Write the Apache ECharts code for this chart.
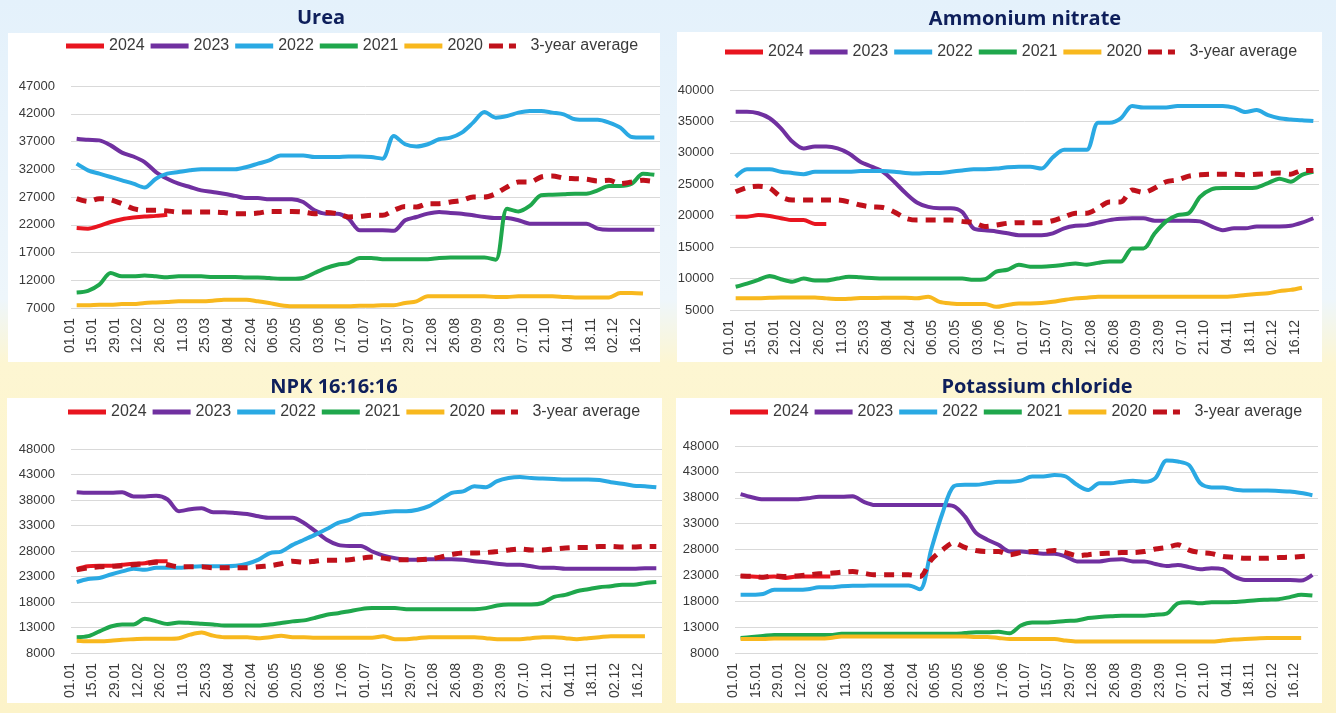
<!DOCTYPE html>
<html>
<head>
<meta charset="utf-8">
<title>Fertilizer prices</title>
<script src="https://cdn.jsdelivr.net/npm/echarts@6/dist/echarts.min.js"></script>
<style>
  html, body { margin: 0; padding: 0; }
  #chart {
    width: 1336px;
    height: 713px;
    background: linear-gradient(to bottom, #e4f1fb 0%, #eef6fb 42%, #fdf6d2 51%, #fcf3c9 100%);
  }
</style>
</head>
<body>
<div id="chart"></div>
<script>
'use strict';

// weekly dates (2024 calendar), every second one is labelled
const weeks = ['01.01','08.01','15.01','22.01','29.01','05.02','12.02','19.02','26.02','04.03','11.03','18.03','25.03',
    '01.04','08.04','15.04','22.04','29.04','06.05','13.05','20.05','27.05','03.06','10.06','17.06','24.06',
    '01.07','08.07','15.07','22.07','29.07','05.08','12.08','19.08','26.08','02.09','09.09','16.09','23.09','30.09',
    '07.10','14.10','21.10','28.10','04.11','11.11','18.11','25.11','02.12','09.12','16.12','23.12'];

const seriesNames = ['2024', '2023', '2022', '2021', '2020', '3-year average'];
const chartTitles = ['Urea', 'Ammonium nitrate', 'NPK 16:16:16', 'Potassium chloride'];

// Urea
const urea2024 = [21400,21300,21800,22500,23000,23300,23500,23600,23800];
const urea2023 = [37500,37300,37200,36300,35000,34300,33300,31500,30300,29400,28800,28200,27900,27600,27200,26800,26800,26600,26600,26600,26100,24600,24000,24000,23100,21000,21000,21000,20900,22800,23400,24000,24300,24100,24000,23700,23400,23200,23200,22800,22200,22200,22200,22200,22200,22200,21300,21100,21100,21100,21100,21100];
const urea2022 = [33000,31800,31200,30600,30000,29400,28700,30300,31200,31500,31800,32000,32000,32000,32000,32400,33000,33600,34500,34500,34500,34200,34200,34200,34300,34300,34200,33900,38000,36500,36100,36500,37400,37700,38600,40400,42300,41300,41600,42200,42500,42500,42200,41900,41000,40900,40900,40400,39500,37800,37700,37700];
const urea2021 = [9800,10100,11200,13300,12700,12700,12850,12700,12550,12700,12700,12700,12600,12600,12600,12500,12500,12400,12250,12250,12400,13300,14200,14800,15100,16000,16000,15800,15800,15800,15800,15800,16000,16100,16100,16100,16100,15700,24900,24400,25400,27300,27400,27500,27600,27600,28200,29000,29000,29400,31200,31000];
const urea2020 = [7500,7500,7600,7600,7700,7700,7900,8000,8100,8200,8200,8200,8300,8500,8500,8500,8200,7900,7500,7300,7300,7300,7300,7300,7300,7400,7400,7500,7500,7900,8200,9100,9100,9100,9100,9100,9100,9000,9000,9100,9100,9100,9100,9000,8900,8900,8900,8900,9700,9700,9600];
const ureaAvg = [26700,26200,26700,26500,25800,24900,24600,24600,24500,24300,24300,24300,24300,24200,24000,24000,24100,24400,24400,24400,24300,24000,24200,24000,23400,23500,23700,23700,24600,25300,25200,25800,25800,26100,26400,27000,27000,27600,28800,29700,29700,30600,30800,30400,30300,30200,29900,30000,29400,29700,30000,29800];

// Ammonium nitrate
const an2024 = [19850,19850,20100,19950,19600,19300,19300,18700,18700];
const an2023 = [36550,36550,36300,35500,33900,31800,30700,31000,31000,30700,29900,28600,27800,27000,25400,23600,22100,21400,21200,21200,20600,18000,17700,17500,17200,16900,16900,16900,17200,18000,18400,18500,18900,19300,19500,19600,19600,19200,19200,19200,19200,19100,18300,17700,18000,18000,18300,18300,18300,18400,18900,19600];
const an2022 = [26200,27400,27400,27400,27000,26800,26600,27000,27000,27000,27000,27100,27100,27100,27000,26800,26700,26800,26800,27000,27200,27400,27400,27500,27700,27800,27800,27500,29300,30500,30500,30500,34800,34800,35500,37450,37200,37200,37200,37450,37450,37450,37450,37450,37200,36500,36800,36000,35500,35300,35200,35050];
const an2021 = [8700,9200,9800,10400,9900,9500,10000,9700,9700,10000,10300,10200,10100,10000,10000,10000,10000,10000,10000,10000,10000,9800,9900,11100,11400,12200,11900,11900,12000,12200,12400,12200,12500,12700,12700,14800,14800,17200,19100,20100,20400,23000,24200,24400,24400,24400,24500,25200,25900,25400,26500,27000];
const an2020 = [6850,6850,6850,6950,7000,7000,7000,7000,6850,6750,6800,6900,6900,6950,6950,6950,6850,7100,6300,6050,5950,5950,5950,5500,5800,6050,6050,6100,6300,6600,6850,6950,7100,7100,7100,7100,7100,7100,7100,7100,7100,7100,7100,7100,7200,7400,7550,7650,8000,8200,8550];
const anAvg = [23800,24500,24700,24400,23000,22500,22500,22500,22500,22500,22200,21700,21400,21300,20600,19600,19300,19300,19300,19300,19100,18900,18300,18500,18800,18900,18900,18900,19200,19800,20400,20400,21200,22200,22200,24100,23700,24400,25400,25700,26300,26500,26600,26600,26600,26500,26600,26700,26800,26600,27200,27200];

// NPK 16:16:16
const npk2024 = [24500,25000,25100,25100,25300,25500,25600,26000,26000];
const npk2023 = [39500,39400,39400,39400,39500,38700,38700,38850,38100,35800,36200,36400,35600,35600,35450,35250,34800,34500,34500,34500,33500,31900,30200,29200,29000,29000,27900,27100,26600,26300,26300,26400,26400,26400,26300,26000,25800,25500,25300,25300,25000,24700,24700,24500,24500,24500,24500,24500,24500,24500,24600,24600];
const npk2022 = [21900,22500,22700,23400,24000,24500,24300,24700,24700,24700,24900,25000,25000,25000,25100,25500,26300,27600,27900,29200,30200,31200,32300,33500,34100,35100,35300,35600,35800,35800,36100,36800,38100,39400,39700,40700,40500,41700,42300,42500,42300,42200,42100,42000,42000,42000,41900,41500,41200,40800,40700,40500];
const npk2021 = [11100,11300,12250,13200,13600,13600,14700,14200,13700,14000,13900,13750,13600,13400,13400,13400,13400,13600,13900,14200,14400,14900,15500,15800,16200,16600,16800,16800,16800,16600,16600,16600,16600,16600,16600,16600,16800,17300,17500,17500,17500,17800,19000,19400,20100,20500,20900,21100,21400,21400,21700,21900];
const npk2020 = [10400,10300,10300,10400,10600,10700,10800,10800,10800,10900,11600,12000,11400,11100,11100,11100,10900,11100,11400,11100,11100,11000,11000,11000,11000,11000,11000,11300,10700,10700,10900,11100,11100,11100,11100,11100,10900,10700,10700,10700,10900,11100,11100,10900,10700,10900,11100,11300,11300,11300,11300];
const npkAvg = [24300,24700,24900,25000,25100,25300,25500,25800,25300,24900,24900,24900,24700,24700,24700,24700,24900,25100,25500,26000,25800,26000,26200,26200,26300,26600,26800,26600,26300,26300,26300,26400,26800,27300,27600,27600,27700,27900,28200,28400,28200,28200,28400,28600,28700,28700,28900,28900,28800,28800,28900,28900];

// Potassium chloride
const kcl2024 = [22900,22800,22650,22800,22500,22800,22800,22800,22800];
const kcl2023 = [38700,38100,37700,37700,37700,37700,37900,38200,38200,38200,38300,37200,36600,36600,36600,36600,36600,36600,36600,36400,34400,31200,29900,28900,27600,27600,27400,27200,27200,26650,25700,25700,25700,26000,26100,25700,25700,25200,24800,25000,24600,24200,24400,24200,22800,22100,22100,22100,22100,22100,22000,23100];
const kcl2022 = [19250,19250,19400,20200,20200,20200,20300,20700,20700,20900,21000,21000,21050,21050,21050,21050,20300,28000,35000,40200,40500,40500,40800,41100,41100,41300,42100,42100,42400,42100,40500,39500,40800,40800,41100,41300,41100,41800,45200,45000,44300,40800,40000,40000,39600,39400,39400,39400,39300,39200,38900,38500];
const kcl2021 = [10900,11100,11300,11500,11500,11500,11500,11500,11500,11700,11700,11700,11700,11700,11700,11700,11700,11700,11700,11700,11850,12000,12000,12100,11800,13300,13900,13900,14000,14200,14300,14750,14950,15100,15200,15200,15200,15400,15600,17600,17800,17600,17800,17800,17850,18000,18200,18300,18400,18800,19250,19100];
const kcl2020 = [10700,10700,10700,10800,10800,10800,10800,10800,10900,11200,11200,11200,11200,11200,11200,11200,11200,11200,11200,11200,11200,11100,11100,10900,10700,10700,10700,10700,10700,10400,10200,10200,10200,10200,10200,10200,10200,10200,10200,10200,10200,10200,10200,10400,10600,10700,10800,10900,10900,10900,10900];
const kclAvg = [22900,22800,22650,22900,22800,22900,23100,23300,23400,23600,23750,23400,23100,23100,23100,23100,22800,26000,27900,29300,28400,27800,27600,27600,27000,27400,27600,27600,27800,27400,26800,27000,27200,27300,27400,27400,27600,28100,28400,28900,27900,27400,27200,26650,26500,26300,26300,26300,26450,26500,26650,26800];

const chartSeries = [
    [urea2024, urea2023, urea2022, urea2021, urea2020, ureaAvg],
    [an2024, an2023, an2022, an2021, an2020, anAvg],
    [npk2024, npk2023, npk2022, npk2021, npk2020, npkAvg],
    [kcl2024, kcl2023, kcl2022, kcl2021, kcl2020, kclAvg]
];

const yRanges = [[7000, 47000], [5000, 40000], [8000, 48000], [8000, 48000]];

/*
 * layout of the four panels
 */
const layouts = [
    { grid: { left: 71, top: 86, width: 589, height: 222 }, legend: { left: 66, top: 38 },
      title: { x: 321, y: 18 }, panel: { x: 8, y: 33, width: 652, height: 329 } },
    { grid: { left: 730, top: 90, width: 589, height: 220 }, legend: { left: 725, top: 44 },
      title: { x: 1025, y: 19 }, panel: { x: 677, y: 32, width: 645, height: 330 } },
    { grid: { left: 71, top: 449, width: 591, height: 204 }, legend: { left: 68, top: 404 },
      title: { x: 334, y: 387 }, panel: { x: 7, y: 398, width: 655, height: 305 } },
    { grid: { left: 735, top: 446, width: 583, height: 207 }, legend: { left: 730, top: 404 },
      title: { x: 1037, y: 387 }, panel: { x: 676, y: 398, width: 646, height: 305 } }
];

const colors = ['#e8151f', '#7030a0', '#2aa9e3', '#1fa74c', '#f8b81e', '#c0111b'];
const labelFont = '"Liberation Sans", Arial, sans-serif';

// legend icons: a thick bar for the years, dash + dot for the average
const solidIcon = 'path://M0,0H38V5H0Z';
const dashIcon = 'path://M0,0H14V5H0Z M20,0H27V5H20Z';

const legendItems = () => seriesNames.map((name, k) => (k === 5
    ? { name, icon: dashIcon, textStyle: { padding: [0, 0, 0, 4] } }
    : { name, icon: solidIcon }));

const buildOption = () => {
    const grid = [], xAxis = [], yAxis = [], legend = [], series = [], graphic = [];

    layouts.forEach((lay, i) => {
        grid.push(Object.assign({ containLabel: false }, lay.grid));

        xAxis.push({
            type: 'category',
            gridIndex: i,
            data: weeks,
            boundaryGap: true,
            axisLine: { show: false },
            axisTick: { show: false },
            axisLabel: {
                interval: 1,
                rotate: 90,
                margin: 10,
                // rotated labels sit slightly left of their point, as in the source
                verticalAlign: 'bottom',
                color: '#3a3a3a',
                fontFamily: labelFont,
                fontSize: 14
            },
            splitLine: { show: false }
        });

        yAxis.push({
            type: 'value',
            gridIndex: i,
            min: yRanges[i][0],
            max: yRanges[i][1],
            interval: 5000,
            axisLine: { show: false },
            axisTick: { show: false },
            axisLabel: {
                margin: 16,
                color: '#3a3a3a',
                fontFamily: labelFont,
                fontSize: 13,
                formatter: v => String(v)
            },
            splitLine: { lineStyle: { color: '#d9d9d9', width: 1 } }
        });

        legend.push({
            left: lay.legend.left,
            top: lay.legend.top,
            width: 640,
            padding: 0,
            orient: 'horizontal',
            data: legendItems(),
            itemWidth: 38,
            itemHeight: 5,
            itemGap: 6,
            selectedMode: false,
            textStyle: {
                color: '#3a3a3a',
                fontFamily: labelFont,
                fontSize: 16
            }
        });

        chartSeries[i].forEach((values, k) => {
            const isAvg = k === 5;
            series.push({
                name: seriesNames[k],
                type: 'line',
                xAxisIndex: i,
                yAxisIndex: i,
                data: values,
                symbol: 'none',
                showSymbol: false,
                smooth: 0.3,
                color: colors[k],
                z: isAvg ? 3 : 2,
                lineStyle: {
                    color: colors[k],
                    width: isAvg ? 5 : 4,
                    type: isAvg ? [10, 8] : 'solid',
                    cap: 'butt'
                }
            });
        });

        graphic.push({
            type: 'rect',
            z: -10,
            silent: true,
            shape: lay.panel,
            style: { fill: '#ffffff' }
        });
        graphic.push({
            type: 'text',
            z: 10,
            silent: true,
            x: lay.title.x,
            y: lay.title.y,
            style: {
                text: chartTitles[i],
                align: 'center',
                verticalAlign: 'middle',
                font: 'bold 20px "Open Sans", "Noto Sans", sans-serif',
                fill: '#0e1f5b'
            }
        });
    });

    return {
        backgroundColor: 'transparent',
        animation: false,
        grid, xAxis, yAxis, legend, series, graphic
    };
};

const chart = echarts.init(document.getElementById('chart'), null, { renderer: 'canvas' });
chart.setOption(buildOption());
</script>
</body>
</html>
